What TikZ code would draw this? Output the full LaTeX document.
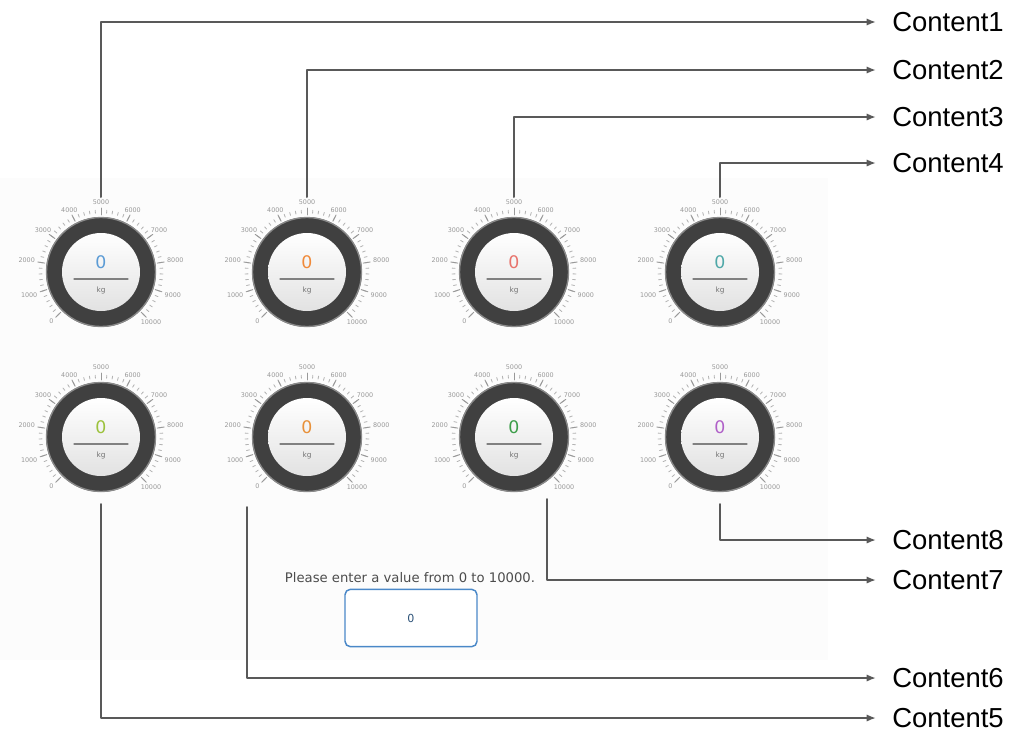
\documentclass[tikz,border=0pt]{standalone}
\usepackage{fontspec}
\setmainfont{Liberation Sans}
\newfontfamily\gaugefont{DejaVu Sans}
\usetikzlibrary{arrows.meta}

\definecolor{ringgray}{HTML}{404040}
\definecolor{rimgray}{HTML}{8A8A8A}
\definecolor{dialgray}{HTML}{E2E2E2}
\definecolor{linegray}{HTML}{595959}
\definecolor{panelgray}{HTML}{FCFCFC}
\definecolor{boxblue}{HTML}{4A88C8}
\definecolor{valblue}{HTML}{5B9BD5}
\definecolor{valorange}{HTML}{F08A3A}
\definecolor{valred}{HTML}{E8736C}
\definecolor{valteal}{HTML}{4FA8A8}
\definecolor{vallime}{HTML}{9CC23C}
\definecolor{valamber}{HTML}{E8913A}
\definecolor{valgreen}{HTML}{3D9E4A}
\definecolor{valpurple}{HTML}{B060C8}

\tikzset{
  conn/.style={draw=linegray,line width=1.5pt,-{Latex[length=7pt,width=5.5pt]}},
  lbl/.style={anchor=west,inner xsep=12pt,inner ysep=0pt,
    font=\fontsize{20.6}{23}\selectfont},
  scalelbl/.style={text=gray!80,inner sep=0.5pt,font=\gaugefont\fontsize{4.8}{5}\selectfont},
  valuelbl/.style={inner sep=0pt,font=\gaugefont\fontsize{13}{14}\selectfont},
  unitlbl/.style={inner sep=0pt,text=gray!90!black,font=\gaugefont\fontsize{5.5}{6}\selectfont},
  pics/gauge/.style={code={
    % scale
    \foreach \i in {0,...,50}
      \draw[gray!60,line width=0.6pt] (225-\i*5.4:59) -- (225-\i*5.4:62);
    \foreach \v [count=\i from 0] in {0,1000,...,10000}{
      \draw[gray!80,line width=0.7pt] (225-\i*27:57) -- (225-\i*27:64);
      \node[scalelbl,anchor=45-\i*27] at (225-\i*27:66) {\v};
    }
    % ring and dial
    \fill[ringgray] (0,0) circle (55);
    \draw[rimgray,line width=1pt] (0,0) circle (54.5);
    \shade[top color=white,bottom color=dialgray] (0,0) circle (39);
    \node[valuelbl,text=#1] (-val) at (0,10) {0};
    \draw[gray,line width=0.8pt] (-27,-7) -- (27,-7);
    \node[unitlbl] (-unit) at (0,-18) {kg};
    % connector ends
    \coordinate (-n) at (0,75);
    \coordinate (-s) at (0,-67);
    \coordinate (-sw) at (-60,-70);
    \coordinate (-se) at (33,-62);
  }}
}

\begin{document}
\begin{tikzpicture}[x=0.75pt,y=0.75pt,line cap=round,line join=round]
  \useasboundingbox (0,0) rectangle (1009,-736);
  \fill[panelgray] (0,-178) rectangle (828,-660);

  % gauges
  \pic (g1) at (101,-272) {gauge=valblue};
  \pic (g2) at (307,-272) {gauge=valorange};
  \pic (g3) at (514,-272) {gauge=valred};
  \pic (g4) at (720,-272) {gauge=valteal};
  \pic (g5) at (101,-437) {gauge=vallime};
  \pic (g6) at (307,-437) {gauge=valamber};
  \pic (g7) at (514,-437) {gauge=valgreen};
  \pic (g8) at (720,-437) {gauge=valpurple};

  % input
  \node[font=\gaugefont\fontsize{9.9}{11}\selectfont,text=gray!60!black] (prompt) at (410,-578)
    {Please enter a value from 0 to 10000.};
  \node[draw=boxblue,line width=1.1pt,rounded corners=4pt,fill=white,
    minimum width=99pt,minimum height=43pt,text=boxblue!60!black,
    font=\gaugefont\fontsize{8.3}{9}\selectfont] (box) at (411,-618) {0};

  % labels
  \node[lbl] (c1) at (876,-22) {Content1};
  \node[lbl] (c2) at (876,-70) {Content2};
  \node[lbl] (c3) at (876,-117) {Content3};
  \node[lbl] (c4) at (876,-163) {Content4};
  \node[lbl] (c8) at (876,-540) {Content8};
  \node[lbl] (c7) at (876,-580) {Content7};
  \node[lbl] (c6) at (876,-678) {Content6};
  \node[lbl] (c5) at (876,-718) {Content5};

  % connectors
  \draw[conn] (g1-n) |- (c1.west);
  \draw[conn] (g2-n) |- (c2.west);
  \draw[conn] (g3-n) |- (c3.west);
  \draw[conn] (g4-n) |- (c4.west);
  \draw[conn] (g8-s) |- (c8.west);
  \draw[conn] (g7-se) |- (c7.west);
  \draw[conn] (g6-sw) |- (c6.west);
  \draw[conn] (g5-s) |- (c5.west);
\end{tikzpicture}
\end{document}
